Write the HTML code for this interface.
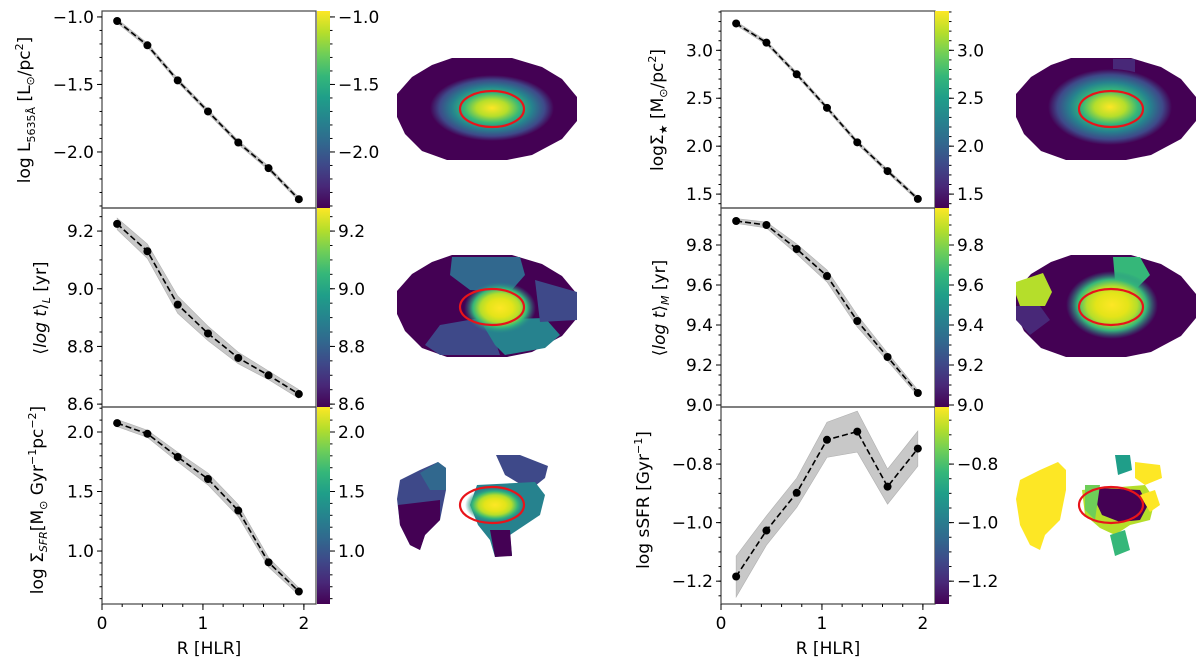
<!DOCTYPE html>
<html><head><meta charset="utf-8"><style>
html,body{margin:0;padding:0;background:#fff;}
svg{display:block;font-family:"DejaVu Sans","Liberation Sans",sans-serif;}
</style></head><body>
<svg id="fig" width="1200" height="664" viewBox="0 0 1200 664" xmlns="http://www.w3.org/2000/svg">
<defs>
<linearGradient id="vir" x1="0" y1="1" x2="0" y2="0">
<stop offset="0" stop-color="#440154"/><stop offset="0.11" stop-color="#482878"/><stop offset="0.22" stop-color="#3e4989"/><stop offset="0.33" stop-color="#31688e"/><stop offset="0.44" stop-color="#26828e"/><stop offset="0.56" stop-color="#1f9e89"/><stop offset="0.67" stop-color="#35b779"/><stop offset="0.78" stop-color="#6ece58"/><stop offset="0.89" stop-color="#b5de2b"/><stop offset="1" stop-color="#fde725"/>
</linearGradient>
<radialGradient id="glow" cx="0.5" cy="0.5" r="0.5">
<stop offset="0" stop-color="#fde725"/><stop offset="0.25" stop-color="#b5de2b"/><stop offset="0.45" stop-color="#35b779"/><stop offset="0.65" stop-color="#26828e"/><stop offset="0.85" stop-color="#3e4989"/><stop offset="1" stop-color="#440154"/>
</radialGradient>
<radialGradient id="glow2" cx="0.5" cy="0.5" r="0.5">
<stop offset="0" stop-color="#fde725"/><stop offset="0.35" stop-color="#e4e419"/><stop offset="0.55" stop-color="#b5de2b"/><stop offset="0.75" stop-color="#35b779"/><stop offset="1" stop-color="#26828e" stop-opacity="0"/>
</radialGradient>
</defs>
<g id="maps"></g>
<g id="plots"></g>
</svg>
<script>
// ---- data ----
const radius = [0.15, 0.45, 0.75, 1.05, 1.35, 1.65, 1.95];
const lumValues = [-1.03, -1.21, -1.47, -1.70, -1.93, -2.12, -2.35];
const lumErr = [0.015, 0.015, 0.015, 0.015, 0.015, 0.015, 0.015];
const ageLValues = [9.225, 9.13, 8.945, 8.845, 8.76, 8.70, 8.635];
const ageLErr = [0.02, 0.025, 0.03, 0.025, 0.02, 0.015, 0.015];
const sfrValues = [2.075, 1.985, 1.79, 1.605, 1.34, 0.905, 0.66];
const sfrErr = [0.03, 0.03, 0.04, 0.05, 0.05, 0.04, 0.03];
const massValues = [3.28, 3.08, 2.75, 2.40, 2.04, 1.74, 1.45];
const massErr = [0.02, 0.02, 0.02, 0.02, 0.02, 0.02, 0.02];
const ageMValues = [9.92, 9.90, 9.78, 9.645, 9.42, 9.24, 9.06];
const ageMErr = [0.012, 0.015, 0.025, 0.03, 0.03, 0.02, 0.015];
const ssfrValues = [-1.184, -1.027, -0.898, -0.717, -0.689, -0.877, -0.747];
const ssfrErr = [0.07, 0.05, 0.05, 0.06, 0.07, 0.06, 0.06];
const xTicks = [0, 1, 2];
const lumTicks = [-1.0, -1.5, -2.0];
const ageLTicks = [9.2, 9.0, 8.8, 8.6];
const sfrTicks = [2.0, 1.5, 1.0];
const massTicks = [3.0, 2.5, 2.0, 1.5];
const ageMTicks = [9.8, 9.6, 9.4, 9.2, 9.0];
const ssfrTicks = [-0.8, -1.0, -1.2];

const NS = "http://www.w3.org/2000/svg";
const plots = document.getElementById('plots');
const maps = document.getElementById('maps');
function mk(tag, attrs, parent){
  const e = document.createElementNS(NS, tag);
  for (const k in attrs) e.setAttribute(k, attrs[k]);
  (parent||plots).appendChild(e);
  return e;
}
function fmt(v){ const s = Math.abs(v).toFixed(1); return v < 0 ? '\u2212' + s : s; }

const cols = [{x0:102, x1:316, cb0:317, cb1:330}, {x0:721, x1:935, cb0:935, cb1:949}];
const rows = [{y0:11, y1:208}, {y0:208, y1:407}, {y0:407, y1:604}];
const panels = [
  {c:0, r:0, vals:lumValues, err:lumErr, ticks:lumTicks, lo:-2.415, hi:-0.956, minor:0.1, name:'luminosity'},
  {c:0, r:1, vals:ageLValues, err:ageLErr, ticks:ageLTicks, lo:8.59, hi:9.28, minor:0.05, name:'age-light'},
  {c:0, r:2, vals:sfrValues, err:sfrErr, ticks:sfrTicks, lo:0.555, hi:2.21, minor:0.1, name:'sfr-density'},
  {c:1, r:0, vals:massValues, err:massErr, ticks:massTicks, lo:1.355, hi:3.41, minor:0.1, name:'mass-density'},
  {c:1, r:1, vals:ageMValues, err:ageMErr, ticks:ageMTicks, lo:8.99, hi:9.985, minor:0.05, name:'age-mass'},
  {c:1, r:2, vals:ssfrValues, err:ssfrErr, ticks:ssfrTicks, lo:-1.278, hi:-0.605, minor:0.05, name:'ssfr'}
];
const xMax = 2.12;

panels.forEach(p => {
  const C = cols[p.c], R = rows[p.r];
  const sx = v => C.x0 + v / xMax * (C.x1 - C.x0);
  const sy = v => R.y1 - (v - p.lo) / (p.hi - p.lo) * (R.y1 - R.y0);
  const g = mk('g', {});
  
  
  let up = radius.map((r,i) => sx(r) + ',' + sy(p.vals[i] + p.err[i]));
  let dn = radius.map((r,i) => sx(r) + ',' + sy(p.vals[i] - p.err[i])).reverse();
  const band = mk('polygon', {points: up.concat(dn).join(' '), fill:'#c8c8c8', stroke:'#b0b0b0', 'stroke-width':0.6}, g);
  
  
  const line = mk('polyline', {points: radius.map((r,i)=> sx(r)+','+sy(p.vals[i])).join(' '), fill:'none', stroke:'#000', 'stroke-width':1.6, 'stroke-dasharray':'6,3'}, g);
  
  
  radius.forEach((r,i) => {
    const c = mk('circle', {cx:sx(r), cy:sy(p.vals[i]), r:4, fill:'#000'}, g);
    
    
  });
  const fr = mk('rect', {x:C.x0, y:R.y0, width:C.x1-C.x0, height:R.y1-R.y0, fill:'none', stroke:'#444', 'stroke-width':1.2}, g);
  
  
  const start = Math.ceil(p.lo / p.minor - 1e-6) * p.minor;
  for (let v = start; v <= p.hi + 1e-9; v += p.minor) {
    const y = sy(v);
    mk('line', {x1:C.x0-2.5, x2:C.x0, y1:y, y2:y, stroke:'#000', 'stroke-width':1}, g);
    mk('line', {x1:C.cb1, x2:C.cb1+2.5, y1:y, y2:y, stroke:'#000', 'stroke-width':1}, g);
  }
  p.ticks.forEach(v => {
    const y = sy(v);
    mk('line', {x1:C.x0-5, x2:C.x0, y1:y, y2:y, stroke:'#000', 'stroke-width':1}, g);
    mk('line', {x1:C.cb1, x2:C.cb1+5, y1:y, y2:y, stroke:'#000', 'stroke-width':1}, g);
    const t = mk('text', {x:C.x0-8, y:y+6, 'text-anchor':'end', 'font-size':17}, g);
    t.textContent = fmt(v);
    
    
    const t2 = mk('text', {x:C.cb1+8, y:y+6, 'text-anchor':'start', 'font-size':17}, g);
    t2.textContent = fmt(v);
    
    
  });
  const cb = mk('rect', {x:C.cb0, y:R.y0, width:C.cb1-C.cb0, height:R.y1-R.y0, fill:'url(#vir)'}, g);
  
  
  if (p.r === 2) {
    for (let v = 0; v <= 2.0001; v += 0.2) {
      const x = sx(v);
      mk('line', {x1:x, x2:x, y1:R.y1, y2:R.y1+3, stroke:'#000', 'stroke-width':1}, g);
    }
    xTicks.forEach(v => {
      const x = sx(v);
      mk('line', {x1:x, x2:x, y1:R.y1, y2:R.y1+6, stroke:'#000', 'stroke-width':1}, g);
      const t = mk('text', {x:x, y:R.y1+25, 'text-anchor':'middle', 'font-size':17}, g);
      t.textContent = v;
      
      
    });
    const xl = mk('text', {x:(C.x0+C.x1)/2, y:R.y1+50, 'text-anchor':'middle', 'font-size':17}, g);
    xl.textContent = 'R [HLR]';
    
    
  }
});

function ytitle(x, y, html, name){
  const t = mk('text', {x:0, y:0, 'text-anchor':'middle', 'font-size':17, transform:'translate('+x+','+y+') rotate(-90)'});
  t.innerHTML = html;
  
  
}
ytitle(30, 110, 'log L<tspan font-size="11" dy="5">5635Å</tspan><tspan dy="-5"> [L</tspan><tspan font-size="11" dy="4">⊙</tspan><tspan dy="-4">/pc</tspan><tspan font-size="11" dy="-7">2</tspan><tspan dy="7">]</tspan>', 'luminosity-y-title');
ytitle(46, 308, '⟨<tspan font-style="italic">log t</tspan>⟩<tspan font-size="11" dy="4" font-style="italic">L</tspan><tspan dy="-4"> [yr]</tspan>', 'age-light-y-title');
ytitle(43, 500, 'log Σ<tspan font-size="11" dy="4" font-style="italic">SFR</tspan><tspan dy="-4">[M</tspan><tspan font-size="11" dy="4">⊙</tspan><tspan dy="-4"> Gyr</tspan><tspan font-size="11" dy="-7">−1</tspan><tspan dy="7">pc</tspan><tspan font-size="11" dy="-7">−2</tspan><tspan dy="7">]</tspan>', 'sfr-density-y-title');
ytitle(663, 110, 'logΣ<tspan font-size="11" dy="4">★</tspan><tspan dy="-4"> [M</tspan><tspan font-size="11" dy="4">⊙</tspan><tspan dy="-4">/pc</tspan><tspan font-size="11" dy="-7">2</tspan><tspan dy="7">]</tspan>', 'mass-density-y-title');
ytitle(665, 308, '⟨<tspan font-style="italic">log t</tspan>⟩<tspan font-size="11" dy="4" font-style="italic">M</tspan><tspan dy="-4"> [yr]</tspan>', 'age-mass-y-title');
ytitle(649, 500, 'log sSFR [Gyr<tspan font-size="11" dy="-7">−1</tspan><tspan dy="7">]</tspan>', 'ssfr-y-title');

// ---- maps ----
function octo(cx, cy){
  const pts = [[-35,-51],[25,-51],[55,-42],[75,-30],[90,-12],[90,12],[75,30],[45,46],[20,51],[-40,51],[-65,42],[-82,25],[-90,8],[-90,-15],[-75,-32],[-55,-44]];
  return pts.map(p => (cx+p[0])+','+(cy+p[1])).join(' ');
}
function poly(pts, fill, name){
  const e = mk('polygon', {points: pts.map(p=>p.join(',')).join(' '), fill: fill}, maps);
  
  
  return e;
}
function ring(cx, cy, name){
  const e = mk('ellipse', {cx:cx, cy:cy, rx:32, ry:18, fill:'none', stroke:'#e8141a', 'stroke-width':2.2}, maps);
  
  
}
function blob(cx, cy, rx, ry, fill, name){
  const e = mk('ellipse', {cx:cx, cy:cy, rx:rx, ry:ry, fill:fill}, maps);
  
  
}
let m = mk('polygon', {points: octo(487,109), fill:'#440154'}, maps);


blob(492, 108, 62, 33, 'url(#glow)', 'luminosity-map-core');
ring(492, 109, 'luminosity-map-ellipse');

m = mk('polygon', {points: octo(1106,109), fill:'#440154'}, maps);


poly([[1113,59],[1135,59],[1135,75],[1113,78]], '#482878', 'mass-map-patch');
blob(1110, 107, 62, 38, 'url(#glow)', 'mass-map-core');
ring(1111, 109, 'mass-map-ellipse');

m = mk('polygon', {points: octo(487,306), fill:'#440154'}, maps);


poly([[452,257],[520,257],[525,275],[510,292],[470,290],[450,275]], '#31688e', 'age-light-map-patch');
poly([[440,325],[480,318],[495,340],[500,355],[440,355],[425,345]], '#3e4989', 'age-light-map-patch');
poly([[480,320],[545,318],[560,335],[545,348],[505,355],[495,345]], '#26828e', 'age-light-map-patch');
poly([[535,280],[577,292],[577,320],[540,322]], '#3e4989', 'age-light-map-patch');
blob(500, 308, 36, 26, 'url(#glow2)', 'age-light-map-core');
ring(492, 307, 'age-light-map-ellipse');

m = mk('polygon', {points: octo(1106,306), fill:'#440154'}, maps);


poly([[1016,282],[1043,273],[1052,292],[1045,306],[1020,306],[1016,295]], '#b5de2b', 'age-mass-map-patch');
poly([[1113,257],[1140,257],[1150,275],[1135,290],[1115,280]], '#35b779', 'age-mass-map-patch');
poly([[1016,306],[1040,306],[1050,320],[1030,335],[1016,320]], '#482878', 'age-mass-map-patch');
blob(1112, 305, 46, 34, 'url(#glow2)', 'age-mass-map-core');
ring(1111, 307, 'age-mass-map-ellipse');

poly([[397,499],[400,480],[420,470],[438,462],[446,468],[446,490],[440,520],[425,535],[420,550],[410,545],[400,525]], '#3e4989', 'sfr-map-left-lobe');
poly([[398,505],[440,500],[440,520],[425,535],[420,550],[410,545],[400,525]], '#440154', 'sfr-map-left-lobe-dark');
poly([[420,473],[438,462],[446,468],[446,490],[430,490]], '#31688e', 'sfr-map-left-lobe-top');
poly([[496,455],[520,455],[548,466],[545,478],[530,490],[505,475]], '#3e4989', 'sfr-map-top-patch');
poly([[477,485],[535,482],[545,495],[540,515],[525,525],[510,535],[512,555],[495,557],[490,540],[478,525],[470,505]], '#26828e', 'sfr-map-right-region');
poly([[490,530],[510,530],[512,556],[495,557]], '#440154', 'sfr-map-bottom-patch');
blob(495, 505, 30, 18, 'url(#glow2)', 'sfr-map-core');
ring(492, 505, 'sfr-map-ellipse');

poly([[1016,499],[1020,480],[1040,470],[1058,462],[1066,470],[1066,490],[1060,520],[1045,535],[1040,550],[1030,545],[1020,525]], '#fde725', 'ssfr-map-left-lobe');
poly([[1115,455],[1130,455],[1132,470],[1118,475]], '#1f9e89', 'ssfr-map-top-patch');
poly([[1135,462],[1160,465],[1162,478],[1145,485],[1135,478]], '#fde725', 'ssfr-map-top-right-patch');
poly([[1082,490],[1145,485],[1155,500],[1150,520],[1130,525],[1115,535],[1100,528],[1085,515]], '#b5de2b', 'ssfr-map-outer');
poly([[1098,488],[1140,490],[1148,505],[1140,520],[1120,522],[1102,515],[1095,500]], '#440154', 'ssfr-map-center');
poly([[1085,485],[1100,485],[1095,520],[1085,510]], '#6ece58', 'ssfr-map-patch');
poly([[1110,535],[1125,530],[1130,550],[1115,556]], '#35b779', 'ssfr-map-bottom-patch');
poly([[1140,495],[1155,490],[1160,505],[1150,512]], '#fde725', 'ssfr-map-patch');
ring(1111, 505, 'ssfr-map-ellipse');
</script>
</body></html>
